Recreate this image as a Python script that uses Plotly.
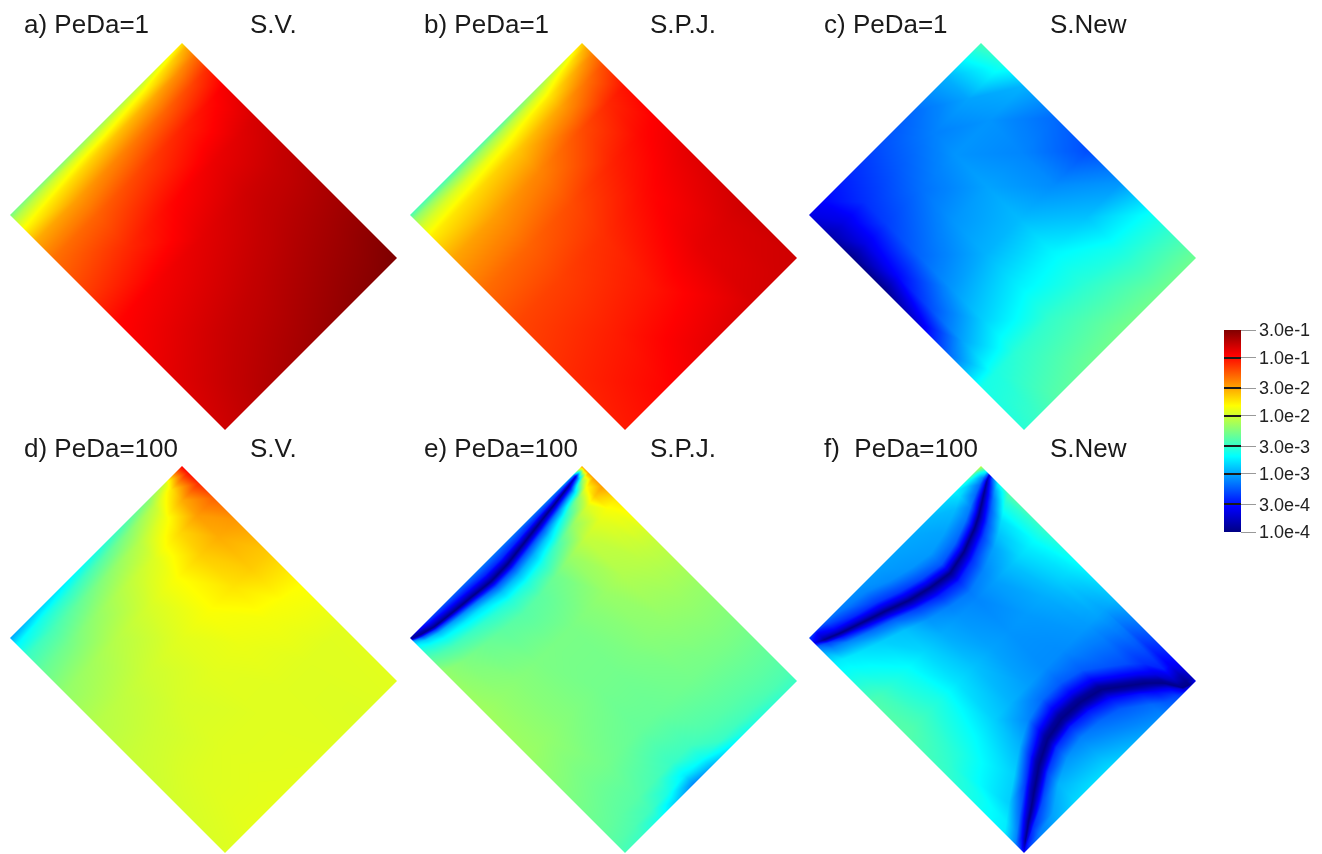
import plotly.graph_objects as go

# log10 of the plotted quantity.
# z[row][col]: row follows t (0 = upper-right edge, 1 = lower-left edge),
# col follows s (0 = upper-left edge, 1 = lower-right edge).
s_a = [0, .02, .06, .12, .2, .35, .5, .75, 1]
t_a = [0, .1, .25, .5, .75, 1]
z_a = [
    [-1.75, -1.55, -1.35, -1.1, -.93, -.82, -.75, -.64, -.52],
    [-1.9, -1.7, -1.45, -1.2, -1.0, -.86, -.78, -.66, -.55],
    [-2.05, -1.85, -1.55, -1.3, -1.08, -.9, -.8, -.69, -.58],
    [-2.15, -1.95, -1.65, -1.4, -1.2, -.98, -.87, -.75, -.64],
    [-2.25, -2.0, -1.75, -1.5, -1.3, -1.1, -.93, -.8, -.7],
    [-2.3, -2.1, -1.85, -1.55, -1.35, -1.18, -.98, -.87, -.8],
]
s_b = [0, .02, .05, .1, .2, .35, .5, .75, 1]
t_b = [0, .1, .25, .5, .75, 1]
z_b = [
    [-1.7, -1.55, -1.4, -1.22, -1.02, -.95, -.87, -.8, -.8],
    [-1.95, -1.75, -1.55, -1.35, -1.1, -.99, -.92, -.84, -.81],
    [-2.15, -1.95, -1.75, -1.52, -1.22, -1.07, -.99, -.88, -.83],
    [-2.4, -2.1, -1.88, -1.65, -1.42, -1.22, -1.12, -1.02, -.88],
    [-2.45, -2.2, -1.95, -1.72, -1.5, -1.3, -1.18, -1.06, -.97],
    [-2.45, -2.2, -2.0, -1.78, -1.53, -1.33, -1.2, -1.1, -1.05],
]
s_c = [0, .1, .2, .35, .5, .65, .8, 1]
t_c = [0, .2, .4, .6, .8, .92, 1]
z_c = [
    [-2.45, -2.6, -2.95, -3.2, -3.3, -3.05, -2.65, -2.32],
    [-2.95, -3.0, -3.05, -3.1, -3.08, -2.9, -2.62, -2.32],
    [-3.2, -3.12, -3.05, -3.0, -2.92, -2.72, -2.55, -2.3],
    [-3.3, -3.25, -3.18, -3.05, -2.95, -2.74, -2.52, -2.33],
    [-3.45, -3.4, -3.35, -3.22, -3.05, -2.85, -2.55, -2.4],
    [-3.55, -3.65, -3.65, -3.55, -3.3, -3.0, -2.6, -2.5],
    [-3.65, -3.85, -3.97, -3.97, -3.7, -3.2, -2.62, -2.55],
]
s_d = [0, .03, .08, .15, .25, .4, .55, .75, 1]
t_d = [0, .1, .2, .35, .5, .7, .85, 1]
z_d = [
    [-.95, -1.0, -1.1, -1.3, -1.48, -1.65, -1.83, -1.93, -1.93],
    [-2.0, -1.75, -1.55, -1.5, -1.55, -1.66, -1.85, -1.94, -1.94],
    [-2.25, -2.05, -1.88, -1.7, -1.66, -1.74, -1.87, -1.94, -1.95],
    [-2.45, -2.25, -2.08, -1.95, -1.85, -1.85, -1.9, -1.94, -1.94],
    [-2.6, -2.4, -2.2, -2.05, -1.97, -1.93, -1.93, -1.94, -1.93],
    [-2.75, -2.55, -2.35, -2.2, -2.08, -2.0, -1.97, -1.94, -1.92],
    [-2.85, -2.62, -2.45, -2.3, -2.15, -2.05, -2.0, -1.95, -1.92],
    [-3.0, -2.72, -2.5, -2.35, -2.2, -2.08, -2.02, -1.98, -1.95],
]
# Panels e and f: the columns follow the dark curves, whose s position per row is below.
t_e = [0, .05, .1, .2, .3, .4, .5, .6, .7, .8, .9, .96, 1]
curve_e = [.005, .01, .016, .026, .035, .045, .055, .057, .048, .04, .03, .017, .005]
z_e = [
    [-1.5, -1.5, -1.5, -1.5, -1.5, -1.5, -1.5, -1.75, -2.03, -2.18, -2.28, -2.38, -2.43, -2.5],
    [-2.8, -3.3, -3.7, -3.1, -2.3, -1.85, -1.65, -1.85, -2.04, -2.18, -2.28, -2.38, -2.43, -2.5],
    [-3.0, -3.4, -3.95, -3.5, -2.9, -2.2, -1.95, -1.92, -2.06, -2.18, -2.28, -2.38, -2.43, -2.52],
    [-3.12, -3.42, -3.98, -3.6, -3.1, -2.6, -2.2, -2.03, -2.1, -2.2, -2.29, -2.39, -2.45, -2.56],
    [-3.15, -3.45, -3.98, -3.7, -3.25, -2.85, -2.45, -2.18, -2.18, -2.23, -2.3, -2.4, -2.47, -2.62],
    [-3.15, -3.42, -3.98, -3.7, -3.3, -2.95, -2.6, -2.32, -2.24, -2.27, -2.32, -2.42, -2.5, -2.75],
    [-3.15, -3.42, -3.98, -3.7, -3.3, -2.95, -2.6, -2.38, -2.28, -2.3, -2.34, -2.47, -2.65, -2.95],
    [-3.15, -3.45, -3.98, -3.65, -3.25, -2.9, -2.58, -2.4, -2.28, -2.3, -2.35, -2.5, -2.75, -3.1],
    [-3.2, -3.5, -3.98, -3.6, -3.15, -2.8, -2.55, -2.38, -2.27, -2.27, -2.33, -2.45, -2.6, -2.85],
    [-3.25, -3.55, -3.98, -3.5, -3.05, -2.75, -2.5, -2.33, -2.24, -2.24, -2.3, -2.4, -2.48, -2.62],
    [-3.35, -3.65, -3.98, -3.4, -2.95, -2.68, -2.45, -2.27, -2.2, -2.2, -2.3, -2.38, -2.43, -2.5],
    [-3.6, -3.85, -3.95, -3.3, -2.85, -2.62, -2.42, -2.23, -2.17, -2.18, -2.28, -2.36, -2.41, -2.47],
    [-3.85, -3.9, -3.9, -3.0, -2.75, -2.58, -2.4, -2.2, -2.15, -2.17, -2.27, -2.35, -2.4, -2.45],
]
t_f = [0, .03, .06, .1, .15, .2, .3, .4, .5, .6, .7, .8, .9, .96, 1]
curve_f1 = [.04, .05, .065, .085, .11, .13, .16, .177, .165, .145, .115, .088, .06, .04, .025]
curve_f2 = [1.0, .995, .985, .93, .89, .86, .80, .78, .775, .79, .83, .885, .94, .975, 1.0]
z_f = [
    [-2.0, -2.2, -2.7, -3.2, -3.7, -3.2, -2.7, -2.4, -2.52, -2.68, -2.92, -3.55, -3.72, -3.78, -3.6, -3.6, -3.6, -3.6, -3.6],
    [-2.25, -2.6, -3.1, -3.5, -3.9, -3.5, -3.0, -2.55, -2.6, -2.75, -2.97, -3.6, -3.85, -3.95, -3.98, -3.9, -3.8, -3.7, -3.6],
    [-2.4, -2.75, -3.2, -3.55, -3.95, -3.6, -3.15, -2.65, -2.68, -2.8, -3.0, -3.45, -3.75, -3.92, -3.98, -3.85, -3.7, -3.6, -3.5],
    [-2.6, -2.85, -3.2, -3.6, -3.97, -3.65, -3.25, -2.8, -2.75, -2.85, -3.0, -3.4, -3.65, -3.9, -3.98, -3.85, -3.6, -3.35, -3.3],
    [-2.72, -2.8, -3.12, -3.55, -3.98, -3.7, -3.3, -2.9, -2.82, -2.92, -3.03, -3.3, -3.6, -3.88, -3.98, -3.85, -3.55, -3.25, -3.2],
    [-2.82, -2.92, -3.15, -3.55, -3.98, -3.72, -3.35, -3.0, -2.9, -2.97, -3.05, -3.28, -3.6, -3.88, -3.98, -3.85, -3.5, -3.2, -3.1],
    [-2.93, -3.0, -3.22, -3.6, -3.98, -3.75, -3.4, -3.1, -3.02, -3.03, -3.08, -3.25, -3.6, -3.9, -3.98, -3.85, -3.55, -3.25, -3.02],
    [-2.98, -3.03, -3.27, -3.65, -3.98, -3.8, -3.45, -3.15, -3.1, -3.05, -3.08, -3.25, -3.6, -3.9, -3.98, -3.85, -3.5, -3.2, -2.92],
    [-3.0, -3.05, -3.32, -3.67, -3.98, -3.78, -3.45, -3.12, -3.05, -3.0, -3.02, -3.2, -3.6, -3.9, -3.98, -3.85, -3.45, -3.12, -2.82],
    [-3.02, -3.08, -3.37, -3.7, -3.98, -3.75, -3.35, -3.05, -2.97, -2.9, -2.95, -3.1, -3.55, -3.88, -3.98, -3.82, -3.4, -3.05, -2.8],
    [-3.05, -3.1, -3.37, -3.7, -3.98, -3.7, -3.25, -2.9, -2.83, -2.78, -2.85, -2.95, -3.45, -3.85, -3.98, -3.8, -3.35, -2.95, -2.82],
    [-3.1, -3.15, -3.42, -3.72, -3.98, -3.62, -3.2, -2.85, -2.68, -2.6, -2.7, -2.85, -3.35, -3.8, -3.98, -3.75, -3.3, -3.0, -2.95],
    [-3.2, -3.3, -3.55, -3.78, -3.98, -3.5, -3.1, -2.78, -2.55, -2.48, -2.58, -2.85, -3.2, -3.65, -3.98, -3.75, -3.4, -3.15, -3.1],
    [-3.4, -3.55, -3.72, -3.85, -3.95, -3.35, -3.1, -2.75, -2.46, -2.42, -2.53, -2.75, -3.1, -3.55, -3.95, -3.75, -3.5, -3.35, -3.3],
    [-3.3, -3.4, -3.5, -3.6, -3.6, -3.2, -3.0, -2.75, -2.42, -2.4, -2.5, -2.75, -3.1, -3.4, -3.6, -3.6, -3.6, -3.6, -3.6],
]

left_labels = ["a) PeDa=1", "b) PeDa=1", "c) PeDa=1",
               "d) PeDa=100", "e) PeDa=100", "f)\u00a0\u00a0PeDa=100"]
right_labels = ["S.V.", "S.P.J.", "S.New", "S.V.", "S.P.J.", "S.New"]
tick_values = [-0.523, -1, -1.523, -2, -2.523, -3, -3.523, -4]
tick_labels = ["3.0e-1", "1.0e-1", "3.0e-2", "1.0e-2", "3.0e-3", "1.0e-3", "3.0e-4", "1.0e-4"]

W, H = 1322, 854
jet = [[0, "rgb(0,0,131)"], [.125, "rgb(0,0,255)"], [.375, "rgb(0,255,255)"],
       [.625, "rgb(255,255,0)"], [.875, "rgb(255,0,0)"], [1, "rgb(128,0,0)"]]
tops = [(182, 43), (582, 43), (981, 43), (182, 466), (582, 466), (981, 466)]


def nodes_e(a):
    return [0, a * .5, a, a + .01, a + .025, a + .05, a + .09, a + .15, .35, .55, .75, .9, .96, 1]


def nodes_f(a, b):
    l, r = min(1, a / .11), min(1, (1 - b) / .11)
    return [0, a - .09 * l, a - .04 * l, a - .015 * l, a, a + .015, a + .04, a + .09, .3, .45, .62,
            b - .09, b - .04, b - .015, b, b + .015 * r, b + .04 * r, b + .09 * r, 1]


panels = [([s_a] * len(t_a), t_a, z_a), ([s_b] * len(t_b), t_b, z_b), ([s_c] * len(t_c), t_c, z_c),
          ([s_d] * len(t_d), t_d, z_d), ([nodes_e(a) for a in curve_e], t_e, z_e),
          ([nodes_f(a, b) for a, b in zip(curve_f1, curve_f2)], t_f, z_f)]
LONG, SHORT = 215, 172
cb_common = dict(thicknessmode="pixels", thickness=17, lenmode="pixels", len=202,
                 x=1224 / W, xanchor="left", y=1 - 431 / H, yanchor="middle",
                 xpad=0, ypad=0, outlinewidth=0, tickvals=tick_values)

fig = go.Figure()
for n, ((tx, ty), (srows, ts, zz)) in enumerate(zip(tops, panels)):
    xs, ys, vs, I, J, K = [], [], [], [], [], []
    ns = len(srows[0])
    for r, t in enumerate(ts):
        for c, s in enumerate(srows[r]):
            xs.append(tx + s * LONG - t * SHORT)
            ys.append(-(ty + s * LONG + t * SHORT))
            vs.append(zz[r][c])
    for r in range(len(ts) - 1):
        for c in range(ns - 1):
            a, b, d, e = r * ns + c, r * ns + c + 1, (r + 1) * ns + c, (r + 1) * ns + c + 1
            I += [a, b]; J += [b, e]; K += [d, d]
    if n == 0:
        kw = dict(showscale=True, colorbar=dict(
            ticks="outside", ticklen=15, tickwidth=1, tickcolor="#999999",
            ticktext=tick_labels, tickfont=dict(family="Liberation Sans", size=18, color="#222222"),
            **cb_common))
    elif n == 1:
        kw = dict(showscale=True, colorbar=dict(
            ticks="inside", ticklen=17, tickwidth=2, tickcolor="#1a1a1a",
            showticklabels=False, **cb_common))
    else:
        kw = dict(showscale=False)
    fig.add_trace(go.Mesh3d(
        x=xs, y=ys, z=[0] * len(xs), i=I, j=J, k=K, intensity=vs, intensitymode="vertex",
        colorscale=jet, cmin=-4, cmax=-0.523, hoverinfo="skip",
        lighting=dict(ambient=1, diffuse=0, specular=0, fresnel=0, roughness=1),
        flatshading=False, **kw))

for n, ((lx, rx, yy), l, r) in enumerate(zip(
        [(22, 248, 24), (422, 648, 24), (822, 1048, 24), (22, 248, 448), (422, 648, 448), (822, 1048, 448)],
        left_labels, right_labels)):
    for xx, txt in ((lx, l), (rx, r)):
        fig.add_annotation(text=txt, x=xx / W, y=1 - yy / H, xref="paper", yref="paper",
                           xanchor="left", yanchor="middle", showarrow=False,
                           font=dict(family="Liberation Sans", size=26, color="#1a1a1a"))

hidden = dict(visible=False, showgrid=False, zeroline=False, showticklabels=False, showspikes=False)
fig.update_layout(
    width=W, height=H, margin=dict(l=0, r=0, t=0, b=0), paper_bgcolor="white",
    scene=dict(
        domain=dict(x=[0, 1], y=[0, 1]),
        xaxis=dict(range=[0, W], **hidden), yaxis=dict(range=[-H, 0], **hidden),
        zaxis=dict(range=[-1, 1], **hidden),
        aspectmode="manual", aspectratio=dict(x=2 * W / H, y=2, z=0.1),
        bgcolor="white", dragmode=False,
        camera=dict(projection=dict(type="orthographic"), eye=dict(x=0, y=0, z=1.2),
                    center=dict(x=0, y=0, z=0), up=dict(x=0, y=1, z=0)),
    ),
)
fig.write_html("out.html", config=dict(displayModeBar=False),
               post_script="document.body.style.margin='0';document.documentElement.style.overflow='hidden';")
